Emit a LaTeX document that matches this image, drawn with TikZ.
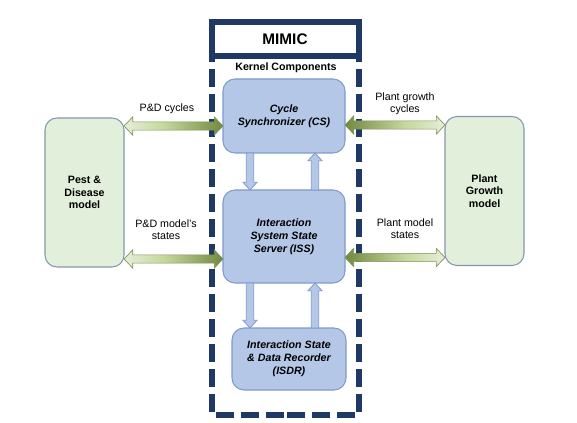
\documentclass[tikz,border=0pt]{standalone}
\usepackage{fontspec}
\setmainfont{Liberation Sans}
\usetikzlibrary{calc}

\definecolor{navy}{HTML}{1F3864}
\definecolor{boxblue}{HTML}{B4C7E7}
\definecolor{boxblueline}{HTML}{7F9ACB}
\definecolor{boxgreen}{HTML}{E2EFDA}
\definecolor{boxgreenline}{HTML}{8497B0}
\definecolor{olive}{HTML}{71893F}
\definecolor{lime}{HTML}{C5D89E}
\definecolor{palegreen}{HTML}{E6EED6}
\definecolor{oliveline}{HTML}{7F9459}

% green gradients for the exchange arrows
\pgfdeclarehorizontalshading{pdshade}{100bp}{color(0bp)=(palegreen); color(25bp)=(palegreen);
  color(45bp)=(lime); color(75bp)=(olive); color(100bp)=(olive)}
\pgfdeclarehorizontalshading{pgshade}{100bp}{color(0bp)=(olive); color(25bp)=(olive);
  color(55bp)=(lime); color(75bp)=(palegreen); color(100bp)=(palegreen)}

% fat double arrow, horizontal, from #1 to #2
\newcommand{\hdblarrow}[3]{%
  \path[#3] let \p1=(#1), \p2=(#2) in
    (\x1,\y1) -- (\x1+6.5pt,\y1+6.8pt) -- (\x1+6.5pt,\y1+3.1pt)
    -- (\x2-6.5pt,\y1+3.1pt) -- (\x2-6.5pt,\y1+6.8pt) -- (\x2,\y1)
    -- (\x2-6.5pt,\y1-6.8pt) -- (\x2-6.5pt,\y1-3.1pt)
    -- (\x1+6.5pt,\y1-3.1pt) -- (\x1+6.5pt,\y1-6.8pt) -- cycle;}

% fat single arrow, vertical, tip at #2
\newcommand{\vblkarrow}[3]{%
  \path[#3] let \p1=(#1), \p2=(#2), \n1={(\y2>\y1)*2-1} in
    (\x1-2.75pt,\y1) -- (\x1-2.75pt,\y2-\n1*5.8pt) -- (\x1-5.25pt,\y2-\n1*5.8pt)
    -- (\x1,\y2) -- (\x1+5.25pt,\y2-\n1*5.8pt) -- (\x1+2.75pt,\y2-\n1*5.8pt)
    -- (\x1+2.75pt,\y1) -- cycle;}

\begin{document}
\begin{tikzpicture}[x=0.75pt,y=-0.75pt,
  kernel/.style={draw=boxblueline, fill=boxblue, line width=0.8pt, rounded corners=9pt,
    align=center, outer sep=0pt, font=\fontsize{8}{9.8}\selectfont\bfseries\itshape},
  model/.style={draw=boxgreenline, fill=boxgreen, line width=0.8pt, rounded corners=9pt,
    align=center, outer sep=0pt, minimum width=59.25pt, minimum height=111.75pt,
    font=\fontsize{8}{9.6}\selectfont\bfseries},
  flowlabel/.style={align=center, font=\fontsize{8}{9.3}\selectfont},
  pdflow/.style={draw=oliveline, line width=0.5pt, shade, shading=pdshade},
  pgflow/.style={draw=oliveline, line width=0.5pt, shade, shading=pgshade},
  updown/.style={draw=boxblueline, fill=boxblue, line width=0.6pt},
  frame/.style={draw=navy, line width=4.5pt}]

\useasboundingbox (0,0) rectangle (577,423);

% MIMIC frame
\draw[frame, dash pattern=on 13.5pt off 5.25pt, dash phase=10.5pt]
  (211.5,58) -- (211.5,415) -- (285,415);
\draw[frame, dash pattern=on 13.5pt off 5.25pt, dash phase=10.5pt]
  (359,58) -- (359,415) -- (285,415);
\draw[frame, fill=white] (211.5,22) rectangle (359,56);
\node (mimic) at (285,39) {\fontsize{11.5}{13}\selectfont\bfseries MIMIC};
\node (kernel) at (286,68) {\fontsize{8}{9}\selectfont\bfseries Kernel Components};

% Kernel components
\node[kernel, minimum width=91.5pt, minimum height=55.5pt] (cs) at (284,116)
  {Cycle\\Synchronizer (CS)};
\node[kernel, minimum width=91.5pt, minimum height=69.75pt] (iss) at (284,236.5)
  {Interaction\\System State\\Server (ISS)};
\node[kernel, minimum width=85.5pt, minimum height=46.5pt] (isdr) at (289,359)
  {Interaction State\\\& Data Recorder\\(ISDR)};

% Outside models
\node[model] (pd) at (84.5,192.5) {Pest \&\\Disease\\model};
\node[model] (pg) at (484.5,191) {Plant\\Growth\\model};

% Exchanges with the models
\hdblarrow{pd.east |- 0,126}{cs.west |- 0,126}{pdflow}
\hdblarrow{pd.east |- 0,259}{iss.west |- 0,259}{pdflow}
\hdblarrow{cs.east |- 0,125}{pg.west |- 0,125}{pgflow}
\hdblarrow{iss.east |- 0,257.5}{pg.west |- 0,257.5}{pgflow}

\node[flowlabel] (pdcyc) at (167,109) {P\&D cycles};
\node[flowlabel] (pdstate) at (166,229.5) {P\&D model's\\states};
\node[flowlabel] (pgcyc) at (405,103.5) {Plant growth\\cycles};
\node[flowlabel] (pgstate) at (405,228.5) {Plant model\\states};

% Kernel links
\vblkarrow{cs.south -| 250,0}{iss.north -| 250,0}{updown}
\vblkarrow{iss.north -| 315,0}{cs.south -| 315,0}{updown}
\vblkarrow{iss.south -| 250,0}{isdr.north -| 250,0}{updown}
\vblkarrow{isdr.north -| 315,0}{iss.south -| 315,0}{updown}

\end{tikzpicture}
\end{document}
